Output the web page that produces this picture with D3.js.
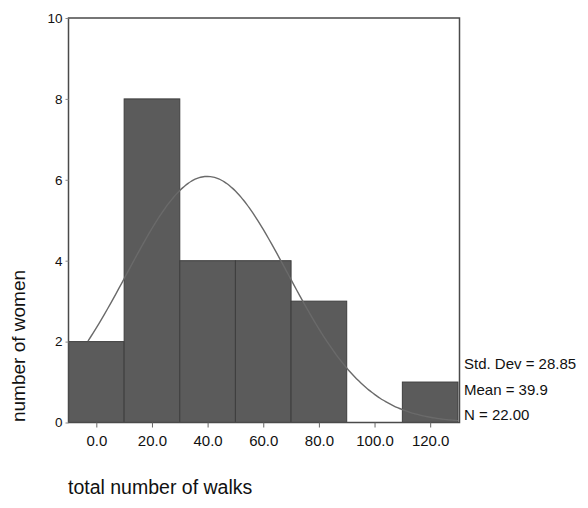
<!DOCTYPE html>
<html>
<head>
<meta charset="utf-8">
<script src="https://cdn.jsdelivr.net/npm/d3@7"></script>
<style>
  html, body { margin: 0; padding: 0; background: #fff; }
  svg { display: block; }
  text { font-family: "Liberation Sans", Arial, sans-serif; fill: #111; }
</style>
</head>
<body>
<svg id="chart" width="588" height="508"></svg>
<script>
// ---- data ----
const binStarts = [-10, 10, 30, 50, 70, 90, 110];
const binWidth = 20;
const counts = [2, 8, 4, 4, 3, 0, 1];
const xTicks = [0, 20, 40, 60, 80, 100, 120];
const yTicks = [0, 2, 4, 6, 8, 10];
const statLabels = ["Std. Dev = 28.85", "Mean = 39.9", "N = 22.00"];
const statMean = 39.9;
const statSd = 28.85;
const statN = 22;
const curveFrom = -3;
const curveTo = 130;
const xLabel = "total number of walks";
const yLabel = "number of women";

// ---- drawing ----
const svg = d3.select("#chart");
const x = d3.scaleLinear().domain([-10, 130]).range([68.5, 458]);
const y = d3.scaleLinear().domain([0, 10]).range([422.5, 18]);

// bars
svg.append("g").selectAll("rect")
  .data(counts.map((c, i) => ({ x0: binStarts[i], c })))
  .join("rect")
  .filter(d => d.c > 0)
  .attr("x", d => x(d.x0))
  .attr("y", d => y(d.c))
  .attr("width", d => x(d.x0 + binWidth) - x(d.x0))
  .attr("height", d => y(0) - y(d.c))
  .attr("fill", "#5b5b5b")
  .attr("stroke", "#3e3e3e")
  .attr("stroke-width", 1);

// normal curve from displayed statistics
const peakScale = statN * binWidth / (statSd * Math.sqrt(2 * Math.PI));
const curvePts = d3.range(curveFrom, curveTo + 0.01, 1).map(v => [v, peakScale * Math.exp(-0.5 * Math.pow((v - statMean) / statSd, 2))]);
svg.append("path")
  .datum(curvePts)
  .attr("fill", "none")
  .attr("stroke", "#6a6a6a")
  .attr("stroke-width", 1.4)
  .attr("d", d3.line().x(d => x(d[0])).y(d => y(d[1])).curve(d3.curveBasis));

// frame
svg.append("rect")
  .attr("x", x(-10)).attr("y", y(10))
  .attr("width", x(130) - x(-10) + 1.5).attr("height", y(0) - y(10))
  .attr("fill", "none").attr("stroke", "#4a4a4a").attr("stroke-width", 1.5);

// x axis
const xAxis = d3.axisBottom(x).tickValues(xTicks).tickFormat(d3.format(".1f")).tickSize(5).tickPadding(8);
const gx = svg.append("g").attr("transform", `translate(0,${y(0)})`).call(xAxis);
gx.select(".domain").remove();
gx.selectAll("line").attr("stroke", "#666");
gx.selectAll("text").attr("font-size", 15).attr("fill", "#111").style("font-family", '"Liberation Sans", Arial, sans-serif');

// y axis
const yAxis = d3.axisLeft(y).tickValues(yTicks).tickSize(3).tickPadding(3);
const gy = svg.append("g").attr("transform", `translate(${x(-10)},0)`).call(yAxis);
gy.select(".domain").remove();
gy.selectAll("line").attr("stroke", "#888");
gy.selectAll("text").attr("font-size", 13.5).attr("fill", "#111").style("font-family", '"Liberation Sans", Arial, sans-serif');

// stats
svg.append("g").selectAll("text")
  .data(statLabels)
  .join("text")
  .attr("x", 464)
  .attr("y", (d, i) => 369 + i * 25.5)
  .attr("font-size", 15)
  .text(d => d);

// axis titles
svg.append("text")
  .attr("x", 68).attr("y", 494)
  .attr("font-size", 19.5)
  .text(xLabel);

svg.append("text")
  .attr("transform", "translate(25,346) rotate(-90)")
  .attr("text-anchor", "middle")
  .attr("font-size", 19)
  .text(yLabel);
</script>
</body>
</html>
